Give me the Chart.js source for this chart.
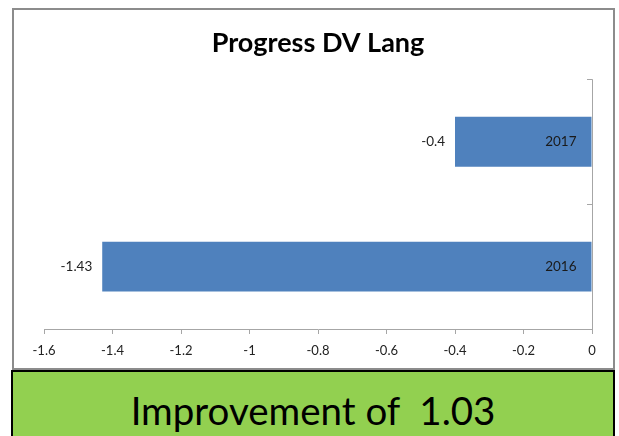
<!DOCTYPE html>
<html>
<head>
<meta charset="utf-8">
<script src="https://cdn.jsdelivr.net/npm/chart.js@4/dist/chart.umd.min.js"></script>
<style>
  html, body { margin: 0; padding: 0; background: #ffffff; width: 619px; height: 436px; overflow: hidden; }
  #chartbox { position: absolute; left: 12px; top: 8px; width: 599px; height: 358px; border: 2px solid #8c8c8c; background: #fff; }
  #chartbox canvas { display: block; }
  #green { position: absolute; left: 11px; top: 370px; width: 600px; height: 80px; background: #92D050; border: 2px solid #000; 
    font-family: Lato, "Open Sans", sans-serif; font-size: 38.5px; color: #000; white-space: pre; text-align: center; line-height: 1; }
  #green span { position: absolute; left: 0; right: 0; top: 19px; }
</style>
</head>
<body>
<div id="chartbox"><canvas id="c" width="599" height="358"></canvas></div>
<div id="green"><span>Improvement of  1.03</span></div>
<script>
const titleText = 'Progress DV Lang';
const categories = ['2017', '2016'];
const values = [-0.4, -1.43];
const valueLabels = ['-0.4', '-1.43'];
const tickLabels = ['-1.6', '-1.4', '-1.2', '-1', '-0.8', '-0.6', '-0.4', '-0.2', '0'];

const FONT = 'Lato, "Open Sans", sans-serif';

const labelPlugin = {
  id: 'labels',
  afterDatasetsDraw(chart) {
    const ctx = chart.ctx;
    const meta = chart.getDatasetMeta(0);
    const xs = chart.scales.x;
    const ys = chart.scales.y;
    ctx.save();
    ctx.font = '13.5px ' + FONT;
    ctx.textBaseline = 'middle';
    meta.data.forEach((bar, i) => {
      const left = Math.min(bar.x, bar.base);
      const right = Math.max(bar.x, bar.base);
      ctx.fillStyle = '#222';
      ctx.textAlign = 'right';
      ctx.fillText(valueLabels[i], left - 10, bar.y);
      ctx.fillStyle = '#1a1a1a';
      ctx.fillText(categories[i], right - 15, bar.y);
    });
    // vertical axis line + inward ticks at category boundaries
    const ax = xs.getPixelForValue(0);
    ctx.strokeStyle = '#a6a6a6';
    ctx.lineWidth = 1;
    ctx.beginPath();
    ctx.moveTo(ax + 0.5, ys.top);
    ctx.lineTo(ax + 0.5, ys.bottom);
    for (let i = 0; i <= categories.length; i++) {
      const y = Math.round(ys.top + (ys.bottom - ys.top) * i / categories.length) + 0.5;
      ctx.moveTo(ax - 5, y);
      ctx.lineTo(ax + 0.5, y);
    }
    ctx.stroke();
    ctx.restore();
  }
};

new Chart(document.getElementById('c'), {
  type: 'bar',
  data: {
    labels: categories,
    datasets: [{
      data: values,
      backgroundColor: '#4F81BD',
      borderWidth: 0,
      barPercentage: 0.4,
      categoryPercentage: 1.0
    }]
  },
  options: {
    indexAxis: 'y',
    responsive: false,
    animation: false,
    devicePixelRatio: 1,
    layout: { padding: { left: 30, right: 21, top: 0, bottom: 0 } },
    plugins: {
      legend: { display: false },
      tooltip: { enabled: false },
      title: {
        display: true,
        text: titleText,
        color: '#000',
        font: { family: FONT, size: 27, weight: 'bold' },
        padding: { top: 17, bottom: 20 }
      }
    },
    scales: {
      x: {
        type: 'linear',
        min: -1.6,
        max: 0,
        afterBuildTicks(scale) {
          scale.ticks = tickLabels.map(t => ({ value: parseFloat(t) }));
        },
        afterFit(scale) { scale.height = 39; },
        ticks: {
          callback: (v, i) => tickLabels[i],
          color: '#222',
          font: { family: FONT, size: 13 },
          padding: 9,
          maxRotation: 0,
          autoSkip: false
        },
        grid: { drawOnChartArea: false, drawTicks: true, tickLength: 5, color: '#a6a6a6' },
        border: { display: true, color: '#a6a6a6' }
      },
      y: {
        position: 'right',
        display: true,
        afterFit(scale) { scale.width = 0; },
        ticks: { display: false },
        grid: { display: false },
        border: { display: false }
      }
    }
  },
  plugins: [labelPlugin]
});
</script>
</body>
</html>
